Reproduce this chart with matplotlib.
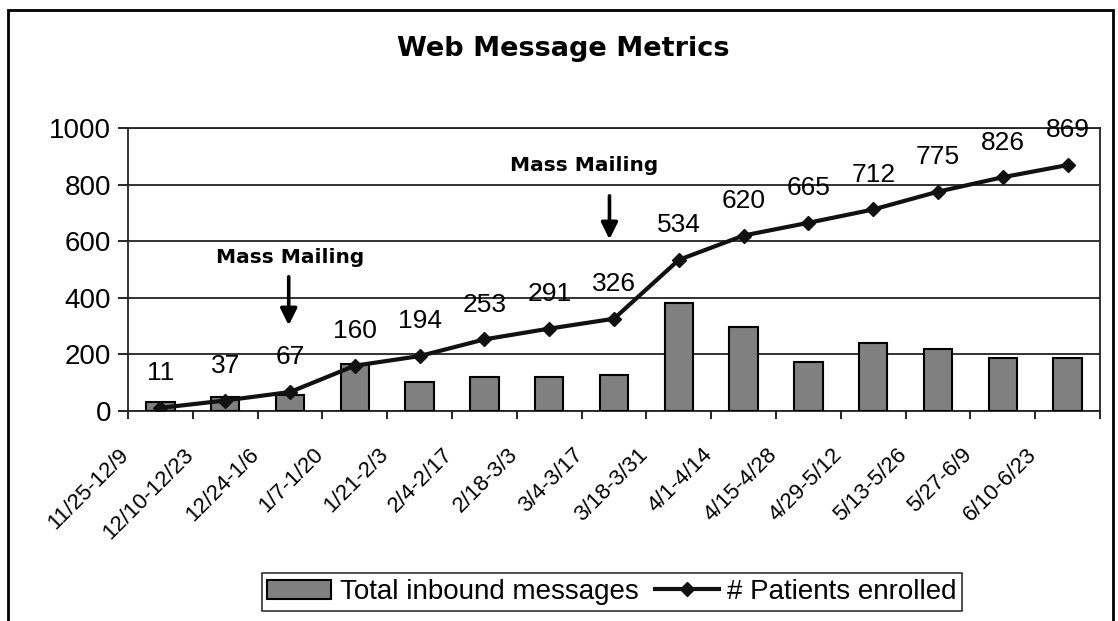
import matplotlib
matplotlib.use("Agg")
import matplotlib.pyplot as plt
import matplotlib.transforms as mtransforms
from matplotlib.patches import Rectangle
from matplotlib.lines import Line2D
import numpy as np

# data
periods = ["11/25-12/9", "12/10-12/23", "12/24-1/6", "1/7-1/20", "1/21-2/3",
           "2/4-2/17", "2/18-3/3", "3/4-3/17", "3/18-3/31", "4/1-4/14",
           "4/15-4/28", "4/29-5/12", "5/13-5/26", "5/27-6/9", "6/10-6/23"]
inbound = [31, 51, 57, 167, 102, 120, 120, 126, 383, 298, 174, 241, 219, 186, 186]
enrolled = [11, 37, 67, 160, 194, 253, 291, 326, 534, 620, 665, 712, 775, 826, 869]

plt.rcParams['font.family'] = ['Liberation Sans', 'DejaVu Sans']

fig = plt.figure(figsize=(11.18, 6.21), dpi=100)
ax = fig.add_axes([0.1145, 0.3382, 0.8694, 0.4557])

x = np.arange(len(periods))
ax.bar(x, inbound, width=0.44, color='#808080', edgecolor='black', linewidth=1.5,
       zorder=3, label='Total inbound messages')
ax.plot(x, enrolled, color='#111111', lw=3, marker='D', markersize=7.5,
        zorder=4, label='# Patients enrolled')

for xi, v in zip(x, enrolled):
    ax.annotate(str(v), (xi, v), xytext=(0, 25), textcoords='offset points',
                ha='center', va='center', fontsize=19, annotation_clip=False)

ax.set_xlim(-0.5, len(periods) - 0.5)
ax.set_ylim(0, 1000)
ax.set_yticks(range(0, 1001, 200))
ax.grid(axis='y', color='#222222', lw=1.3, zorder=0)
ax.tick_params(axis='y', labelsize=20, length=7, width=1.2, direction='out', pad=5)

# ticks between categories, labels centred
ax.set_xticks(np.arange(-0.5, len(periods), 1.0))
ax.set_xticklabels([])
ax.tick_params(axis='x', which='major', length=6, width=1.2, direction='out')
ax.set_xticks(x, minor=True)
ax.set_xticklabels(periods, minor=True, rotation=45, ha='right', fontsize=16)
ax.tick_params(axis='x', which='minor', length=0, pad=24)
shift = mtransforms.ScaledTranslation(-0.27, 0, fig.dpi_scale_trans)
for lab in ax.get_xticklabels(minor=True):
    lab.set_transform(lab.get_transform() + shift)

for s in ax.spines.values():
    s.set_color('#222222')
    s.set_linewidth(1.3)

# annotations
for tx, ty, ax0, y0, y1 in [(2.0, 544, 1.98, 484, 293), (6.54, 869, 6.93, 770, 597)]:
    ax.text(tx, ty, 'Mass Mailing', ha='center', va='center', fontsize=14.5,
            fontweight='bold', family='DejaVu Sans', zorder=6)
    ax.annotate('', xy=(ax0, y1), xytext=(ax0, y0),
                arrowprops=dict(arrowstyle='-|>', lw=2.6, color='black',
                                mutation_scale=25), zorder=6)

fig.text(0.504, 1 - 49 / 621, 'Web Message Metrics', ha='center', va='center',
         fontsize=19.5, fontweight='bold', family='DejaVu Sans')

handles = [Rectangle((0, 0), 1, 1, facecolor='#808080', edgecolor='black', lw=1.5),
           Line2D([], [], color='#111111', lw=3, marker='D', markersize=7)]
leg = fig.legend(handles, ['Total inbound messages', '# Patients enrolled'],
                 loc='center', bbox_to_anchor=(612 / 1118, 1 - 592 / 621),
                 ncol=2, fontsize=20, frameon=True, fancybox=False,
                 handlelength=2.3, handletextpad=0.3, columnspacing=0.6,
                 borderpad=0.2, borderaxespad=0)
leg.get_frame().set_edgecolor('black')
leg.get_frame().set_linewidth(1.2)

fig.patches.append(Rectangle((8 / 1118, -0.05), (1113 - 8) / 1118, 1.05 - 10 / 621,
                             transform=fig.transFigure, fill=False,
                             edgecolor='black', lw=2))

fig.savefig('out.png', dpi=100)
